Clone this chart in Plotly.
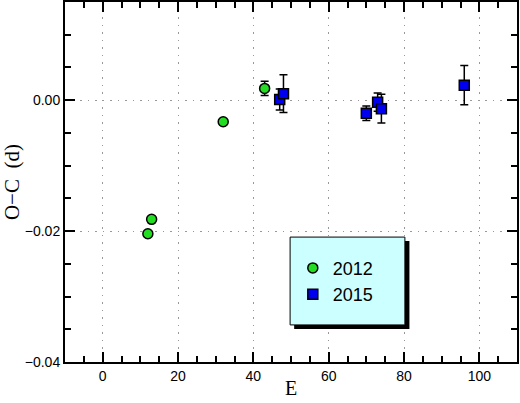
import plotly.graph_objects as go

# O-C values
e_2012 = [12, 13, 32, 43]
oc_2012 = [-0.0204, -0.0182, -0.0033, 0.0018]
err_2012 = [0, 0, 0, 0.0011]

e_2015 = [47, 48, 70, 73, 74, 96]
oc_2015 = [0.0001, 0.0010, -0.0020, -0.0003, -0.0013, 0.0023]
err_2015 = [0.0016, 0.0029, 0.0011, 0.0014, 0.0022, 0.0030]

fig = go.Figure()

fig.add_trace(go.Scatter(
    x=e_2012, y=oc_2012, mode="markers", name="2012",
    marker=dict(symbol="circle", size=10, color="#22dd22",
                line=dict(color="black", width=1.5)),
    error_y=dict(type="data", array=err_2012, color="black",
                 thickness=1.5, width=4),
))
fig.add_trace(go.Scatter(
    x=e_2015, y=oc_2015, mode="markers", name="2015",
    marker=dict(symbol="square", size=10, color="#0000ee",
                line=dict(color="black", width=1.5)),
    error_y=dict(type="data", array=err_2015, color="black",
                 thickness=1.5, width=4),
))

axis_style = dict(
    showline=True, linecolor="black", linewidth=2, mirror="allticks",
    ticks="inside", ticklen=10, tickwidth=1.5, tickcolor="black",
    showgrid=True, gridcolor="#999999", griddash="1.5px,6px", gridwidth=1.2,
    zeroline=False, automargin=False,
    tickfont=dict(family="Liberation Sans, Arial", size=14, color="black"),
)

fig.update_xaxes(
    range=[-10, 110], dtick=20, tick0=0,
    minor=dict(dtick=5, ticks="inside", ticklen=6, tickwidth=1.5,
               tickcolor="black", showgrid=False),
    **axis_style,
)
fig.update_yaxes(
    range=[-0.04, 0.015], dtick=0.02, tick0=0, tickformat=".2f",
    minor=dict(dtick=0.005, ticks="inside", ticklen=6, tickwidth=1.5,
               tickcolor="black", showgrid=False),
    **axis_style,
)

# axis titles
title_font = dict(family="Liberation Serif, Times New Roman", size=20,
                  color="black")
fig.add_annotation(text="E", xref="paper", yref="paper", x=0.5, y=-0.073,
                   xanchor="center", yanchor="middle", showarrow=False,
                   font=title_font)
fig.add_annotation(text="O\u2212C  (d)", xref="paper", yref="paper",
                   x=-0.117, y=0.5, xanchor="center", yanchor="middle",
                   textangle=-90, showarrow=False,
                   font=dict(family="Liberation Serif, Times New Roman",
                             size=21, color="black"))

# legend box with drop shadow
fig.add_shape(type="rect", xref="paper", yref="paper",
              x0=0.507, x1=0.762, y0=0.092, y1=0.336,
              fillcolor="black", line=dict(width=0), layer="above")
fig.add_shape(type="rect", xref="paper", yref="paper",
              x0=0.498, x1=0.752, y0=0.103, y1=0.347,
              fillcolor="#ccffff", line=dict(color="black", width=1),
              layer="above")

fig.update_layout(
    width=520, height=403,
    margin=dict(l=65, r=3, t=2, b=41),
    plot_bgcolor="white", paper_bgcolor="white",
    showlegend=True,
    legend=dict(x=0.504, y=0.312, xanchor="left", yanchor="top",
                bgcolor="rgba(0,0,0,0)", borderwidth=0,
                font=dict(family="Liberation Sans, Arial", size=18,
                          color="black"),
                tracegroupgap=0),
)

# drop the default page margin so the figure sits at the window corner
fig.write_html("out.html", config={"displayModeBar": False},
               post_script="document.body.style.margin='0px';")
